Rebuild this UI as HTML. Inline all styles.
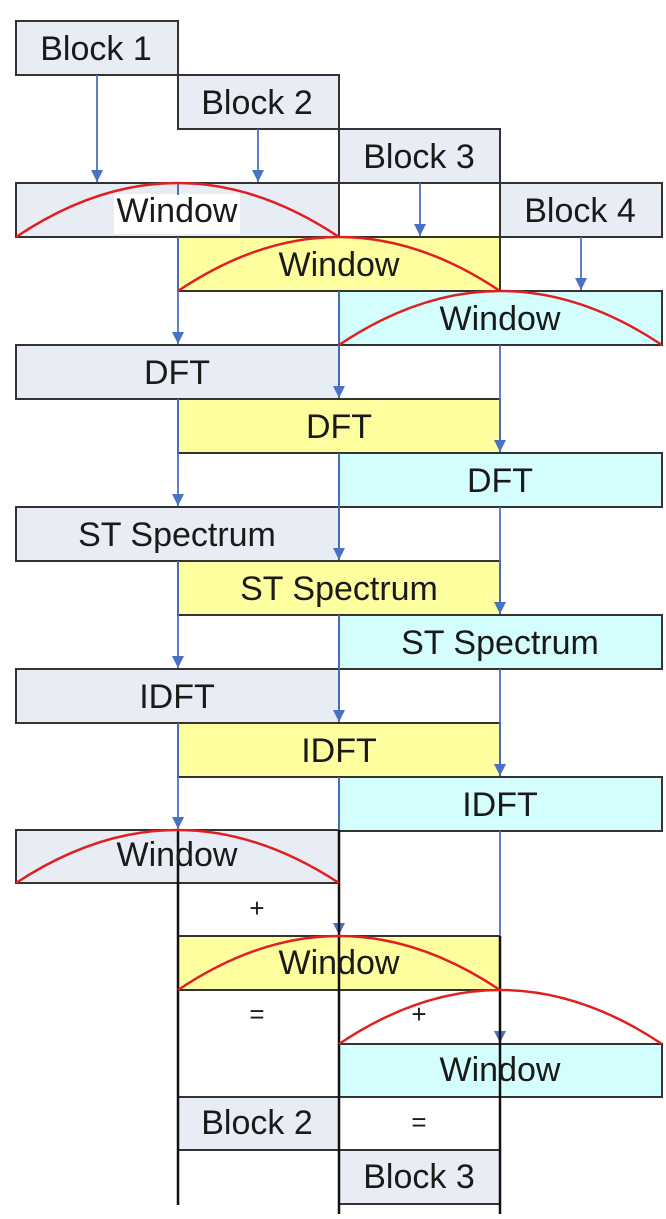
<!DOCTYPE html>
<html><head><meta charset="utf-8"><style>
html,body{margin:0;padding:0;background:#fff;}
svg text{font-family:"Liberation Sans",sans-serif;font-size:34px;fill:#1a1a1a;text-anchor:middle;}
</style></head><body>
<svg width="666" height="1214" viewBox="0 0 666 1214" xmlns="http://www.w3.org/2000/svg">
<defs>
<marker id="a" markerWidth="12" markerHeight="12" refX="12" refY="6" orient="auto" markerUnits="userSpaceOnUse" viewBox="0 0 12 12">
<path d="M0,0 L12,6 L0,12 Z" fill="#4a72c4"/>
</marker>
</defs>
<g stroke="#333" stroke-width="2">
<rect x="16" y="21" width="162" height="54" fill="#e8ecf5"/>
<rect x="178" y="75" width="161" height="54" fill="#e8ecf5"/>
<rect x="339" y="129" width="161" height="54" fill="#e8ecf5"/>
<rect x="500" y="183" width="162" height="54" fill="#e8ecf5"/>
<rect x="16" y="183" width="323" height="54" fill="#e8ecf5"/>
<rect x="178" y="237" width="322" height="54" fill="#fefe9e"/>
<rect x="339" y="291" width="323" height="54" fill="#d4fefe"/>
<rect x="16" y="345" width="323" height="54" fill="#e8ecf5"/>
<rect x="178" y="399" width="322" height="54" fill="#fefe9e"/>
<rect x="339" y="453" width="323" height="54" fill="#d4fefe"/>
<rect x="16" y="507" width="323" height="54" fill="#e8ecf5"/>
<rect x="178" y="561" width="322" height="54" fill="#fefe9e"/>
<rect x="339" y="615" width="323" height="54" fill="#d4fefe"/>
<rect x="16" y="669" width="323" height="54" fill="#e8ecf5"/>
<rect x="178" y="723" width="322" height="54" fill="#fefe9e"/>
<rect x="339" y="777" width="323" height="54" fill="#d4fefe"/>
<rect x="16" y="830" width="323" height="53" fill="#e8ecf5"/>
<rect x="178" y="936" width="322" height="54" fill="#fefe9e"/>
<rect x="339" y="1044" width="323" height="53" fill="#d4fefe"/>
<rect x="178" y="1097" width="161" height="53" fill="#e8ecf5"/>
<rect x="339" y="1150" width="161" height="54" fill="#e8ecf5"/>
</g>
<rect x="114" y="194" width="126" height="40" fill="#fff"/>
<line x1="178" y1="184" x2="178" y2="195" stroke="#4a72c4" stroke-width="2"/>
<g stroke="#4a72c4" stroke-width="1.8" marker-end="url(#a)" fill="none">
<line x1="97" y1="75" x2="97" y2="182"/>
<line x1="258" y1="129" x2="258" y2="182"/>
<line x1="420" y1="183" x2="420" y2="236"/>
<line x1="581" y1="237" x2="581" y2="290"/>
<line x1="178" y1="237" x2="178" y2="344"/>
<line x1="339" y1="291" x2="339" y2="398"/>
<line x1="500" y1="345" x2="500" y2="452"/>
<line x1="178" y1="399" x2="178" y2="506"/>
<line x1="339" y1="453" x2="339" y2="560"/>
<line x1="500" y1="507" x2="500" y2="614"/>
<line x1="178" y1="561" x2="178" y2="668"/>
<line x1="339" y1="615" x2="339" y2="722"/>
<line x1="500" y1="669" x2="500" y2="776"/>
<line x1="178" y1="723" x2="178" y2="829"/>
<line x1="339" y1="777" x2="339" y2="935"/>
<line x1="500" y1="831" x2="500" y2="1043"/>
</g>
<g stroke="#111" stroke-width="2.5">
<line x1="178" y1="830" x2="178" y2="1205"/>
<line x1="339" y1="830" x2="339" y2="1214"/>
<line x1="500" y1="936" x2="500" y2="1214"/>
</g>
<g stroke="#e02020" stroke-width="2.5" fill="none">
<path d="M16,237 Q177,129 339,237"/>
<path d="M178,291 Q339,183 500,291"/>
<path d="M339,345 Q500,237 662,345"/>
<path d="M16,883 Q177,777 339,883"/>
<path d="M178,990 Q339,882 500,990"/>
<path d="M339,1044 Q500,936 662,1044"/>
</g>
<text x="96" y="60">Block 1</text>
<text x="257" y="114">Block 2</text>
<text x="419" y="168">Block 3</text>
<text x="580" y="222">Block 4</text>
<text x="177" y="222">Window</text>
<text x="339" y="276">Window</text>
<text x="500" y="330">Window</text>
<text x="177" y="384">DFT</text>
<text x="339" y="438">DFT</text>
<text x="500" y="492">DFT</text>
<text x="177" y="546">ST Spectrum</text>
<text x="339" y="600">ST Spectrum</text>
<text x="500" y="654">ST Spectrum</text>
<text x="177" y="708">IDFT</text>
<text x="339" y="762">IDFT</text>
<text x="500" y="816">IDFT</text>
<text x="177" y="866">Window</text>
<text x="257" y="917" style="font-size:26px">+</text>
<text x="339" y="974">Window</text>
<text x="257" y="1023" style="font-size:26px">=</text>
<text x="419" y="1023" style="font-size:26px">+</text>
<text x="500" y="1081">Window</text>
<text x="257" y="1134">Block 2</text>
<text x="419" y="1131" style="font-size:26px">=</text>
<text x="419" y="1188">Block 3</text>
</svg>
</body></html>
